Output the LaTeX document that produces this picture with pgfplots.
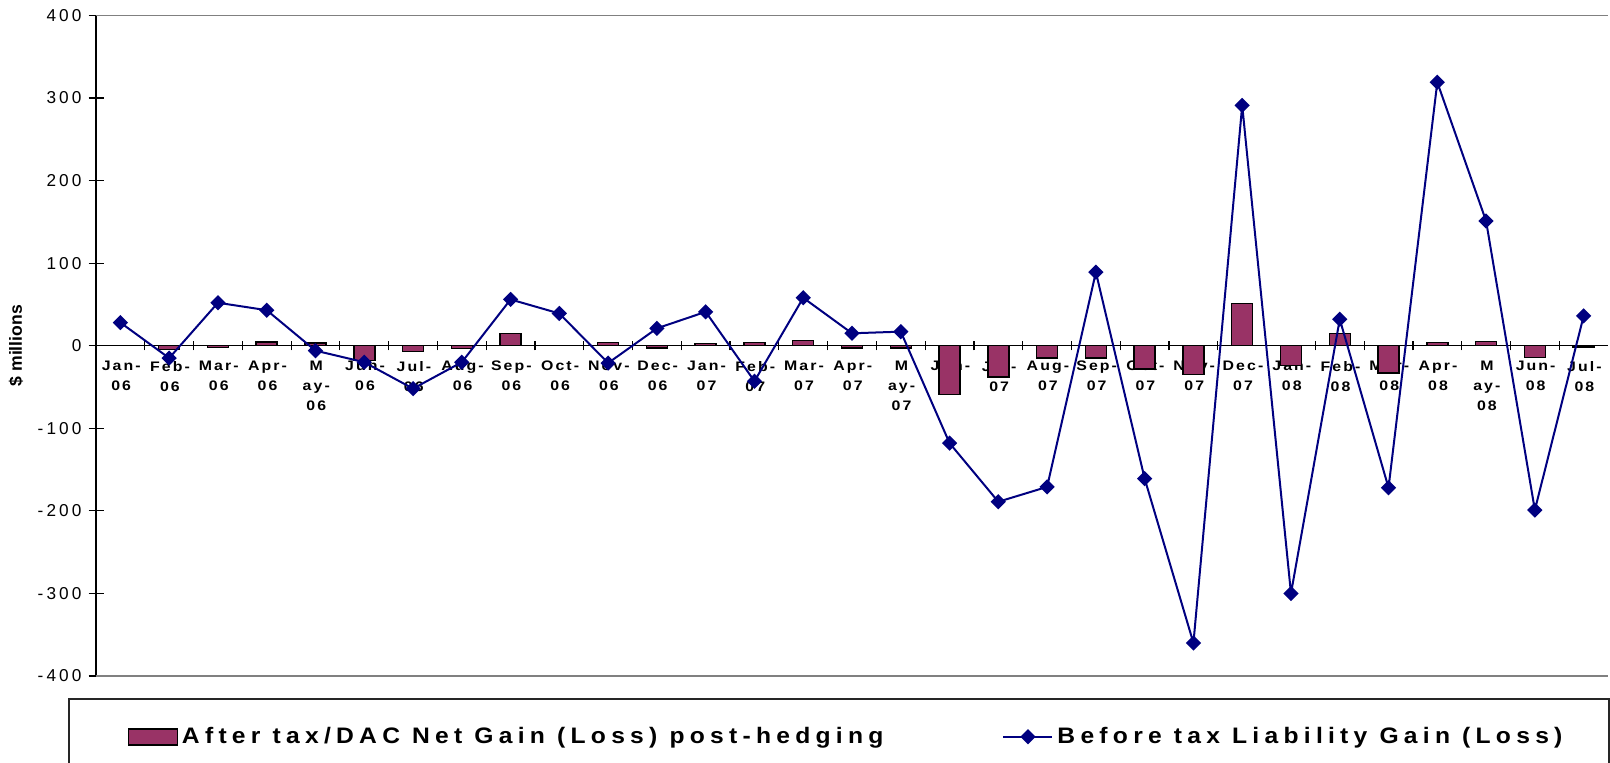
\documentclass[border=0pt]{standalone}
\usepackage{fontspec}
\setmainfont{Liberation Sans}
\newfontfamily\catfont[LetterSpace=15,FakeStretch=1.15]{Liberation Sans Bold}
\newfontfamily\legfont[LetterSpace=23.5,FakeStretch=1.1]{Liberation Sans Bold}
\newfontfamily\tickfont[LetterSpace=18]{Liberation Sans}
\newfontfamily\labfont{Liberation Sans Bold}
\usepackage{pgfplots}
\pgfplotsset{compat=1.18}
\definecolor{barcol}{HTML}{993366}
\definecolor{linecol}{HTML}{000080}
\pgfplotsset{mylineleg/.style={legend image code/.code={\draw[mark repeat=2,mark phase=2,##1] plot coordinates {(0pt,0pt) (12.25pt,0pt) (24.5pt,0pt)};}}}
\begin{document}
\begin{tikzpicture}
\begin{axis}[
  name=ax,
  scale only axis, width=756pt, height=330.3pt,
  xmin=-0.5, xmax=30.5, ymin=-400, ymax=400,
  axis x line=middle, axis y line=left,
  hide obscured x ticks=false, hide obscured y ticks=false,
  x axis line style={-, black, line width=0.6pt},
  y axis line style={-, black, line width=0.8pt},
  xtick={0,...,30},
  xticklabels={{Jan-\\06},{Feb-\\06},{Mar-\\06},{Apr-\\06},{M\\ay-\\06},{Jun-\\06},{Jul-\\06},{Aug-\\06},{Sep-\\06},{Oct-\\06},{Nov-\\06},{Dec-\\06},{Jan-\\07},{Feb-\\07},{Mar-\\07},{Apr-\\07},{M\\ay-\\07},{Jun-\\07},{Jul-\\07},{Aug-\\07},{Sep-\\07},{Oct-\\07},{Nov-\\07},{Dec-\\07},{Jan-\\08},{Feb-\\08},{Mar-\\08},{Apr-\\08},{M\\ay-\\08},{Jun-\\08},{Jul-\\08}},
  minor xtick={0.5,1.5,...,29.5},
  major x tick style={draw=none},
  ytick={-400,-300,...,400},
  yticklabels={-400,-300,-200,-100,0,100,200,300,400},
  tick align=center, major tick length=7.5pt, minor tick length=4.7pt,
  tick style={black, line width=0.6pt},
  yticklabel style={font=\tickfont\fontsize{8.6}{10}\selectfont},
  xticklabel style={align=center, font=\catfont\fontsize{6.9}{10}\selectfont, anchor=north, yshift=-0.5pt, xshift=0.4pt},
  ylabel={\$ millions},
  ylabel style={font=\labfont\fontsize{8.8}{10}\selectfont, at={(axis description cs:-0.0529,0.5)}, anchor=center},
  legend columns=2,
  legend style={draw=none, fill=none, at={(axis description cs:0.0166,-0.092)}, anchor=west,
    font=\legfont\fontsize{11.2}{13}\selectfont,
    /tikz/every even column/.append style={column sep=57.5pt}},
]
\addplot[ybar, bar width=10.5pt, fill=barcol, draw=black, line width=0.75pt,
  legend image code/.code={\draw[fill=barcol,draw=black,line width=0.75pt] (0pt,-4pt) rectangle (24.5pt,4pt);}]
  coordinates {(0,0) (1,-4.5) (2,-2) (3,4.5) (4,3.5) (5,-18) (6,-7) (7,-3.5) (8,15)
  (10,4) (11,-2.5) (12,2.5) (13,4) (14,6) (15,-2.5) (16,-3) (17,-59) (18,-38) (19,-15)
  (20,-15) (21,-28) (22,-35) (23,51) (24,-24) (25,15) (26,-33) (27,4) (28,5) (29,-14) (30,-1.5)};
\addlegendentry{After tax/DAC Net Gain (Loss) post-hedging}
\addplot[linecol, line width=1pt, mark=square*, mark size=2.2pt, mark options={rotate=45, fill=linecol, draw=linecol}, mylineleg]
  coordinates {(0,28) (1,-15) (2,52) (3,43) (4,-6) (5,-20) (6,-52) (7,-20) (8,56) (9,39)
  (10,-21) (11,21) (12,41) (13,-43) (14,58) (15,15) (16,17) (17,-118) (18,-189) (19,-171)
  (20,89) (21,-161) (22,-360) (23,291) (24,-300) (25,32) (26,-172) (27,319) (28,151) (29,-199) (30,36)};
\addlegendentry{Before tax Liability Gain (Loss)}
\end{axis}
\draw[gray, line width=0.7pt] (ax.north west) -- (ax.north east);
\draw[gray, line width=0.7pt] (ax.south west) -- (ax.south east);
\draw[black!85, line width=0.8pt] ([xshift=-13.5pt,yshift=-60pt]ax.south west) -- ([xshift=-13.5pt,yshift=-11.5pt]ax.south west) -- ([xshift=0.5pt,yshift=-11.5pt]ax.south east) -- ([xshift=0.5pt,yshift=-60pt]ax.south east);
\pgfresetboundingbox
\useasboundingbox ([xshift=-48pt,yshift=-43.5pt]ax.south west) rectangle ([xshift=1pt,yshift=7.7pt]ax.north east);
\end{tikzpicture}
\end{document}
